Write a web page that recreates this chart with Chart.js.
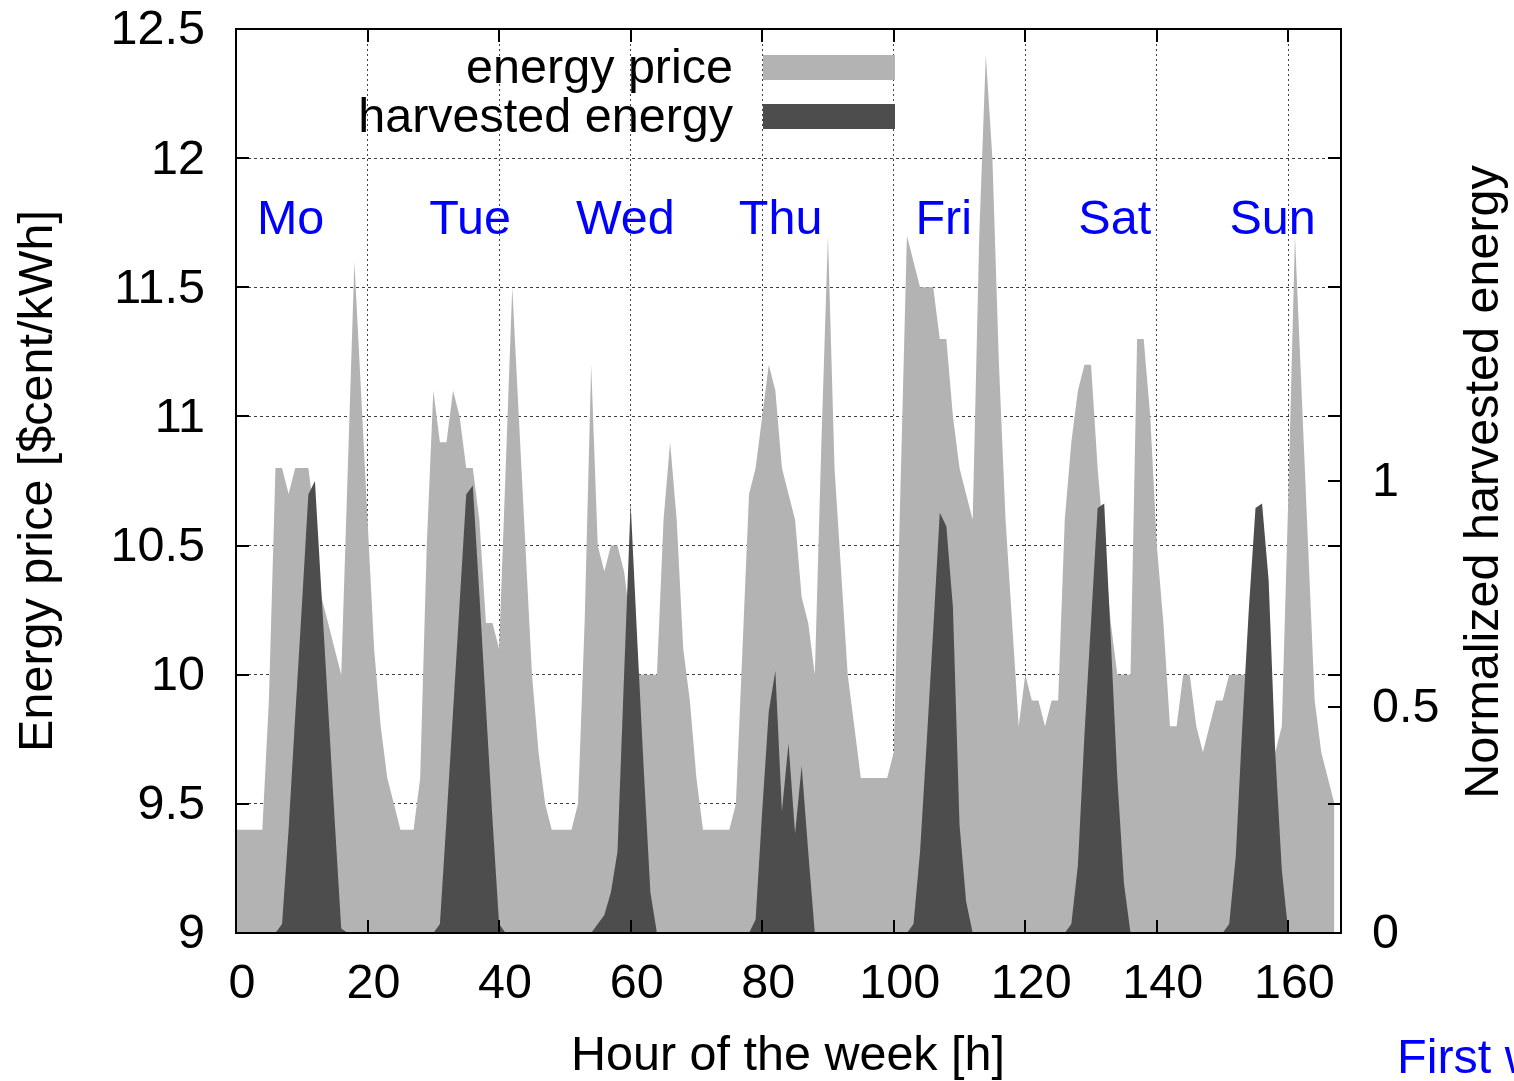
<!DOCTYPE html>
<html>
<head>
<meta charset="utf-8">
<script src="https://cdn.jsdelivr.net/npm/chart.js@4.4.1/dist/chart.umd.min.js"></script>
<style>
  html, body { margin: 0; padding: 0; background: #fff; }
  #wrap { width: 1514px; height: 1081px; }
</style>
</head>
<body>
<div id="wrap"><canvas id="chart-week" width="1514" height="1081"></canvas></div>
<script>
// energy price per hour of the week [$cent/kWh]
const priceValues = [
  9.4, 9.4, 9.4, 9.4, 9.4, 9.9, 10.8, 10.8, 10.7, 10.8, 10.8, 10.8,
  10.6, 10.3, 10.2, 10.1, 10.0, 10.8, 11.6, 11.1, 10.6, 10.1, 9.8, 9.6,
  9.5, 9.4, 9.4, 9.4, 9.6, 10.5, 11.1, 10.9, 10.9, 11.1, 11.0, 10.8,
  10.8, 10.6, 10.2, 10.2, 10.1, 10.8, 11.5, 11.0, 10.5, 10.0, 9.7, 9.5,
  9.4, 9.4, 9.4, 9.4, 9.5, 10.2, 11.2, 10.5, 10.4, 10.5, 10.5, 10.4,
  10.2, 10.0, 10.0, 10.0, 10.0, 10.6, 10.9, 10.6, 10.1, 9.9, 9.6, 9.4,
  9.4, 9.4, 9.4, 9.4, 9.5, 10.1, 10.7, 10.8, 11.0, 11.2, 11.1, 10.8,
  10.7, 10.6, 10.3, 10.2, 10.0, 10.9, 11.7, 10.8, 10.4, 10.0, 9.8, 9.6,
  9.6, 9.6, 9.6, 9.6, 9.7, 10.7, 11.7, 11.6, 11.5, 11.5, 11.5, 11.3,
  11.3, 11.0, 10.8, 10.7, 10.6, 11.7, 12.4, 12.0, 11.2, 10.6, 10.2, 9.8,
  10.0, 9.9, 9.9, 9.8, 9.9, 9.9, 10.6, 10.9, 11.1, 11.2, 11.2, 10.8,
  10.5, 10.2, 10.0, 10.0, 10.0, 11.3, 11.3, 11.0, 10.5, 10.2, 9.8, 9.8,
  10.0, 10.0, 9.8, 9.7, 9.8, 9.9, 9.9, 10.0, 10.0, 10.0, 10.0, 9.9,
  9.8, 9.7, 9.7, 9.8, 10.7, 11.7, 11.1, 10.5, 9.9, 9.7, 9.6, 9.5
];

// normalized harvested energy per hour
const harvestValues = [
  0, 0, 0, 0, 0, 0, 0, 0.02, 0.23, 0.48, 0.72, 0.97,
  1.0, 0.75, 0.5, 0.25, 0.01, 0, 0, 0, 0, 0, 0, 0,
  0, 0, 0, 0, 0, 0, 0, 0.02, 0.25, 0.49, 0.73, 0.97,
  0.99, 0.75, 0.5, 0.25, 0.02, 0, 0, 0, 0, 0, 0, 0,
  0, 0, 0, 0, 0, 0, 0, 0.02, 0.04, 0.09, 0.18, 0.57,
  0.95, 0.65, 0.36, 0.09, 0, 0, 0, 0, 0, 0, 0, 0,
  0, 0, 0, 0, 0, 0, 0, 0.03, 0.27, 0.49, 0.58, 0.27,
  0.42, 0.22, 0.37, 0.18, 0, 0, 0, 0, 0, 0, 0, 0,
  0, 0, 0, 0, 0, 0, 0, 0.02, 0.18, 0.42, 0.67, 0.93,
  0.9, 0.72, 0.24, 0.07, 0, 0, 0, 0, 0, 0, 0, 0,
  0, 0, 0, 0, 0, 0, 0, 0.02, 0.15, 0.44, 0.69, 0.94,
  0.95, 0.65, 0.34, 0.11, 0, 0, 0, 0, 0, 0, 0, 0,
  0, 0, 0, 0, 0, 0, 0, 0.02, 0.17, 0.46, 0.72, 0.94,
  0.95, 0.78, 0.4, 0.14, 0, 0, 0, 0, 0, 0, 0, 0
];

const hours = priceValues.map((v, i) => i);
const xTicks = [0, 20, 40, 60, 80, 100, 120, 140, 160];
const yTicks = [9, 9.5, 10, 10.5, 11, 11.5, 12, 12.5];
const y2Ticks = [0, 0.5, 1];
const dayNames = ['Mo', 'Tue', 'Wed', 'Thu', 'Fri', 'Sat', 'Sun'];

const FONT = '48.5px "Liberation Sans", Arial, sans-serif';
const LIGHT = '#b3b3b3';
const DARK = '#4d4d4d';

const gnuplotLook = {
  id: 'gnuplotLook',
  afterDraw(chart, args, opts) {
    const ctx = chart.ctx;
    const a = chart.chartArea;
    const xs = chart.scales.x, ys = chart.scales.y, y2s = chart.scales.y2;
    const off = 2; // visual centring of middle baseline
    ctx.save();

    // frame
    ctx.strokeStyle = '#000';
    ctx.lineWidth = 2;
    ctx.strokeRect(a.left, a.top, a.right - a.left, a.bottom - a.top);

    // inward ticks
    const tl = 13;
    ctx.beginPath();
    xs.ticks.forEach(t => {
      const px = Math.round(xs.getPixelForValue(t.value));
      ctx.moveTo(px, a.bottom); ctx.lineTo(px, a.bottom - tl);
      ctx.moveTo(px, a.top); ctx.lineTo(px, a.top + tl);
    });
    ys.ticks.forEach(t => {
      const py = Math.round(ys.getPixelForValue(t.value));
      ctx.moveTo(a.left, py); ctx.lineTo(a.left + tl, py);
      ctx.moveTo(a.right, py); ctx.lineTo(a.right - tl, py);
    });
    y2s.ticks.forEach(t => {
      const py = Math.round(y2s.getPixelForValue(t.value));
      ctx.moveTo(a.right, py); ctx.lineTo(a.right - tl, py);
    });
    ctx.stroke();

    // tick labels
    ctx.fillStyle = '#000';
    ctx.font = FONT;
    ctx.textBaseline = 'middle';
    ctx.textAlign = 'center';
    xs.ticks.forEach(t => {
      ctx.fillText(String(t.value), xs.getPixelForValue(t.value) + 6, a.bottom + 50 + off);
    });
    ctx.textAlign = 'right';
    ys.ticks.forEach(t => {
      ctx.fillText(String(t.value), a.left - 31, ys.getPixelForValue(t.value) + off);
    });
    ctx.textAlign = 'left';
    y2s.ticks.forEach(t => {
      ctx.fillText(String(t.value), a.right + 31, y2s.getPixelForValue(t.value) + off);
    });

    // axis titles
    ctx.textAlign = 'center';
    ctx.fillText('Hour of the week [h]', 788, 1055 + off);
    ctx.save();
    ctx.translate(37 + off, 481);
    ctx.rotate(-Math.PI / 2);
    ctx.fillText('Energy price [$cent/kWh]', 0, 0);
    ctx.restore();
    ctx.save();
    ctx.translate(1483 + off, 482);
    ctx.rotate(-Math.PI / 2);
    ctx.fillText('Normalized harvested energy', 0, 0);
    ctx.restore();

    // legend, text to the left of the swatch
    ctx.textAlign = 'right';
    chart.data.datasets.slice().sort((p, q) => p.legendRow - q.legendRow).forEach((ds, i) => {
      const cy = 67 + i * 49;
      ctx.fillStyle = '#000';
      ctx.fillText(ds.label, 733, cy + off + 1);
      ctx.fillStyle = ds.backgroundColor;
      ctx.fillRect(763, cy - 12, 132, 25);
    });

    // day names
    ctx.fillStyle = '#0000ff';
    ctx.textAlign = 'center';
    const dy = ys.getPixelForValue(opts.dayLevel);
    dayNames.forEach((d, i) => {
      ctx.fillText(d, xs.getPixelForValue(opts.dayHours[i]), dy + off);
    });
    ctx.textAlign = 'left';
    ctx.fillText('First week', 1397, 1058 + off);

    ctx.restore();
  }
};

new Chart(document.getElementById('chart-week').getContext('2d'), {
  type: 'line',
  data: {
    labels: hours,
    datasets: [
      {
        label: 'harvested energy',
        legendRow: 1,
        data: harvestValues,
        yAxisID: 'y2',
        backgroundColor: DARK,
        borderColor: DARK,
        borderWidth: 0,
        pointRadius: 0,
        fill: 'origin',
        tension: 0
      },
      {
        label: 'energy price',
        legendRow: 0,
        data: priceValues,
        yAxisID: 'y',
        backgroundColor: LIGHT,
        borderColor: LIGHT,
        borderWidth: 0,
        pointRadius: 0,
        fill: 'start',
        tension: 0
      }
    ]
  },
  options: {
    responsive: false,
    animation: false,
    devicePixelRatio: 1,
    layout: { padding: { top: 29, left: 0, right: 0, bottom: 0 } },
    plugins: {
      legend: { display: false },
      tooltip: { enabled: false },
      gnuplotLook: {
        dayHours: [8.3, 35.6, 59.2, 82.8, 107.6, 133.6, 157.6],
        dayLevel: 11.765
      }
    },
    scales: {
      x: {
        type: 'linear',
        min: 0,
        max: 168,
        afterBuildTicks: s => { s.ticks = xTicks.map(v => ({ value: v })); },
        afterFit: s => { s.height = 148; },
        ticks: { display: false },
        grid: { color: 'rgba(0,0,0,0.75)', lineWidth: 1, drawTicks: false },
        border: { display: false, dash: [2, 3] }
      },
      y: {
        position: 'left',
        min: 9,
        max: 12.5,
        afterBuildTicks: s => { s.ticks = yTicks.map(v => ({ value: v })); },
        afterFit: s => { s.width = 236; },
        ticks: { display: false },
        grid: { color: 'rgba(0,0,0,0.75)', lineWidth: 1, drawTicks: false },
        border: { display: false, dash: [3, 3] }
      },
      y2: {
        position: 'right',
        min: 0,
        max: 2,
        afterBuildTicks: s => { s.ticks = y2Ticks.map(v => ({ value: v })); },
        afterFit: s => { s.width = 173; },
        ticks: { display: false },
        grid: { display: false, drawTicks: false },
        border: { display: false }
      }
    }
  },
  plugins: [gnuplotLook]
});
</script>
</body>
</html>
